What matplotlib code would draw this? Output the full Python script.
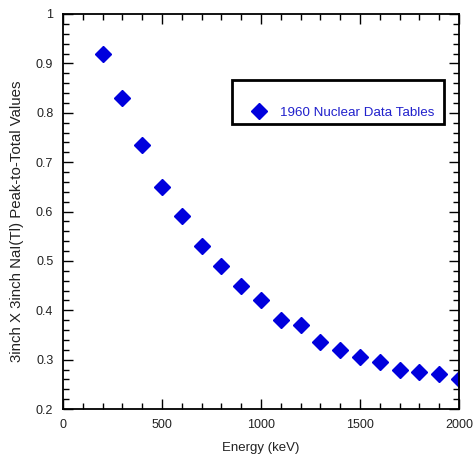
import matplotlib
matplotlib.use("Agg")
import matplotlib.pyplot as plt
from matplotlib.patches import Rectangle
from matplotlib.ticker import MultipleLocator

plt.rcParams['font.family'] = ['Liberation Sans', 'DejaVu Sans']

energy_kev = [200, 300, 400, 500, 600, 700, 800, 900, 1000, 1100,
              1200, 1300, 1400, 1500, 1600, 1700, 1800, 1900, 2000]
peak_to_total = [0.92, 0.83, 0.735, 0.65, 0.59, 0.53, 0.49, 0.45, 0.42, 0.38,
                 0.37, 0.335, 0.32, 0.305, 0.295, 0.28, 0.275, 0.27, 0.26]
series_label = "1960 Nuclear Data Tables"

marker_color = "#0000DD"

fig = plt.figure(figsize=(4.73, 4.66), dpi=100)
ax = fig.add_axes([63 / 473, 1 - 409 / 466, 396 / 473, 395 / 466])

ax.plot(energy_kev, peak_to_total, linestyle="none", marker="D",
        markersize=8.5, color=marker_color, label=series_label)

ax.set_xlim(0, 2000)
ax.set_ylim(0.2, 1.0)
ax.xaxis.set_major_locator(MultipleLocator(500))
ax.xaxis.set_minor_locator(MultipleLocator(100))
ax.yaxis.set_minor_locator(MultipleLocator(0.02))
ax.set_yticks([0.2, 0.3, 0.4, 0.5, 0.6, 0.7, 0.8, 0.9, 1.0])
ax.set_yticklabels(["0.2", "0.3", "0.4", "0.5", "0.6", "0.7", "0.8", "0.9", "1"])

ax.tick_params(which="both", direction="in", top=True, right=True,
               labelsize=9, width=1.0, color="black", labelcolor="#222222")
ax.tick_params(which="major", length=7, pad=7)
ax.tick_params(which="minor", length=4)
for s in ax.spines.values():
    s.set_linewidth(1.3)

ax.set_xlabel("Energy (keV)", fontsize=9.5, labelpad=8, color="#222222")
ax.set_ylabel("3inch X 3inch NaI(Tl) Peak-to-Total Values", fontsize=10.8,
              color="#222222")
ax.yaxis.set_label_coords(-0.098, 0.476)

# legend box
ax.add_patch(Rectangle((0.427, 0.722), 0.535, 0.111, transform=ax.transAxes,
                       fill=False, edgecolor="black", linewidth=2, zorder=5))
leg = ax.legend(loc="center left", bbox_to_anchor=(0.475, 0.75), frameon=False,
                fontsize=9.6, handletextpad=1.0, handlelength=1.2,
                borderaxespad=0, borderpad=0)
for t in leg.get_texts():
    t.set_color("#2020CC")

fig.savefig("out.png", dpi=100)
